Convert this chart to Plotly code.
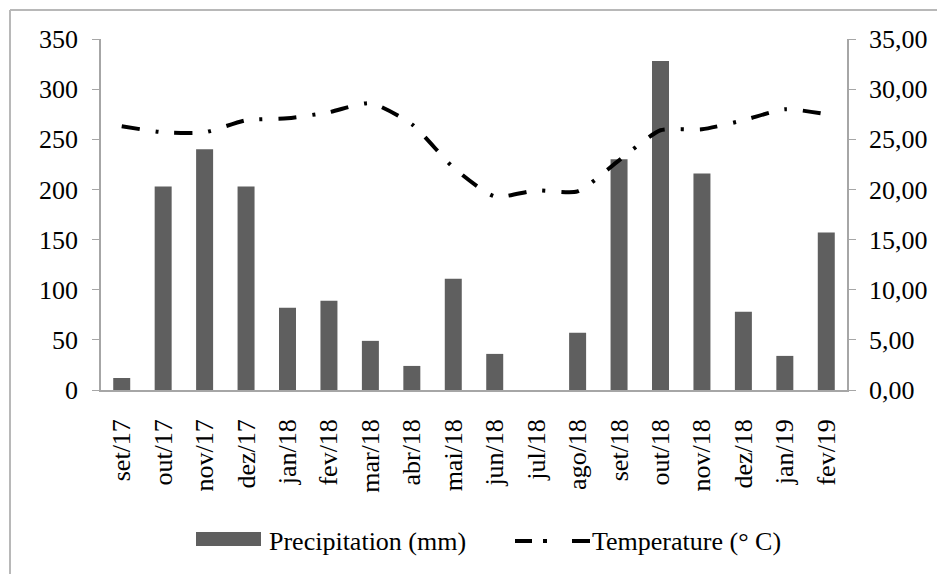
import plotly.graph_objects as go

months = ["set/17", "out/17", "nov/17", "dez/17", "jan/18", "fev/18", "mar/18", "abr/18",
          "mai/18", "jun/18", "jul/18", "ago/18", "set/18", "out/18", "nov/18", "dez/18",
          "jan/19", "fev/19"]
precipitation = [12, 203, 240, 203, 82, 89, 49, 24, 111, 36, 0, 57, 230, 328, 216, 78, 34, 157]
temperature = [26.3, 25.7, 25.7, 26.9, 27.1, 27.7, 28.6, 26.5, 22.2, 19.3, 19.9, 19.8,
               22.9, 25.9, 26.0, 26.9, 28.0, 27.5]
left_ticks = [0, 50, 100, 150, 200, 250, 300, 350]
right_ticks = [0, 5, 10, 15, 20, 25, 30, 35]
legend_names = ["Precipitation (mm)", "Temperature (° C)"]

FONT = "Liberation Serif"
AXIS_COLOR = "#a6a6a6"
BAR_COLOR = "#5f5f5f"

# page has an 8px body margin; plot area in figure coords
L, T, W, H = 93, 31, 746, 351
FIG_W, FIG_H = 945, 574

n = len(months)
boundaries = [i - 0.5 for i in range(n + 1)]


def px(xp):  # page x -> paper x
    return (xp - 8 - L) / W


def py(yp):  # page y -> paper y
    return (T + H - (yp - 8)) / H


fig = go.Figure()
fig.add_trace(go.Bar(
    x=months, y=precipitation, name=legend_names[0],
    marker=dict(color=BAR_COLOR, line=dict(width=0)), showlegend=False,
))
fig.add_trace(go.Scatter(
    x=months, y=temperature, name=legend_names[1], yaxis="y2", showlegend=False,
    mode="lines", line=dict(color="black", width=4, dash="18px,16px,3px,16px",
                            shape="spline", smoothing=0.6),
))

shapes = [
    # outer chart frame (top and left edges visible)
    dict(type="line", xref="paper", yref="paper", x0=px(10), x1=px(960),
         y0=py(10), y1=py(10), line=dict(color="#b8b8b8", width=2)),
    dict(type="line", xref="paper", yref="paper", x0=px(10), x1=px(10),
         y0=py(10), y1=py(600), line=dict(color="#b8b8b8", width=2)),
    # legend swatches
    dict(type="rect", xref="paper", yref="paper", x0=px(196), x1=px(261),
         y0=py(532), y1=py(546), fillcolor=BAR_COLOR, line=dict(width=0)),
    dict(type="line", xref="paper", yref="paper", x0=px(515), x1=px(532),
         y0=py(541), y1=py(541), line=dict(color="black", width=4)),
    dict(type="line", xref="paper", yref="paper", x0=px(543), x1=px(547),
         y0=py(541), y1=py(541), line=dict(color="black", width=4)),
    dict(type="line", xref="paper", yref="paper", x0=px(572), x1=px(590),
         y0=py(541), y1=py(541), line=dict(color="black", width=4)),
]
annotations = [
    dict(xref="paper", yref="paper", x=px(267), y=py(541), xanchor="left", yanchor="middle",
         text=legend_names[0], showarrow=False, font=dict(family=FONT, size=26, color="black")),
    dict(xref="paper", yref="paper", x=px(590), y=py(541), xanchor="left", yanchor="middle",
         text=legend_names[1], showarrow=False, font=dict(family=FONT, size=26, color="black")),
]

fig.update_layout(
    width=FIG_W, height=FIG_H,
    margin=dict(l=L, r=FIG_W - L - W, t=T, b=FIG_H - T - H),
    paper_bgcolor="white", plot_bgcolor="white",
    font=dict(family=FONT, size=26, color="black"),
    separators=",.",
    bargap=0.59,
    showlegend=False,
    xaxis=dict(
        type="category", ticks="outside", ticklen=17, tickcolor="rgba(0,0,0,0)",
        showline=True, linecolor=AXIS_COLOR, linewidth=1.5, tickangle=-90,
        showgrid=False, tickfont=dict(family=FONT, size=26, color="black"), automargin=False,
        range=[-0.5, n - 0.5],
    ),
    xaxis2=dict(
        overlaying="x", anchor="y", side="bottom", range=[-0.5, n - 0.5],
        tickvals=boundaries, ticks="outside", ticklen=7, tickcolor=AXIS_COLOR,
        showticklabels=False, showline=False, showgrid=False, zeroline=False,
    ),
    yaxis=dict(
        range=[0, 350], tickvals=left_ticks, ticks="outside", ticklen=7, tickcolor=AXIS_COLOR,
        showline=True, linecolor=AXIS_COLOR, linewidth=1.5, showgrid=False, zeroline=False,
        tickfont=dict(family=FONT, size=26, color="black"), automargin=False, ticklabelstandoff=9,
    ),
    yaxis2=dict(
        range=[0, 35], tickvals=right_ticks, tickformat=".2f", overlaying="y", side="right",
        ticks="outside", ticklen=7, tickcolor=AXIS_COLOR,
        showline=True, linecolor=AXIS_COLOR, linewidth=1.5, showgrid=False, zeroline=False,
        tickfont=dict(family=FONT, size=26, color="black"), automargin=False, ticklabelstandoff=8,
    ),
    shapes=shapes,
    annotations=annotations,
)

fig.write_html("out.html")
